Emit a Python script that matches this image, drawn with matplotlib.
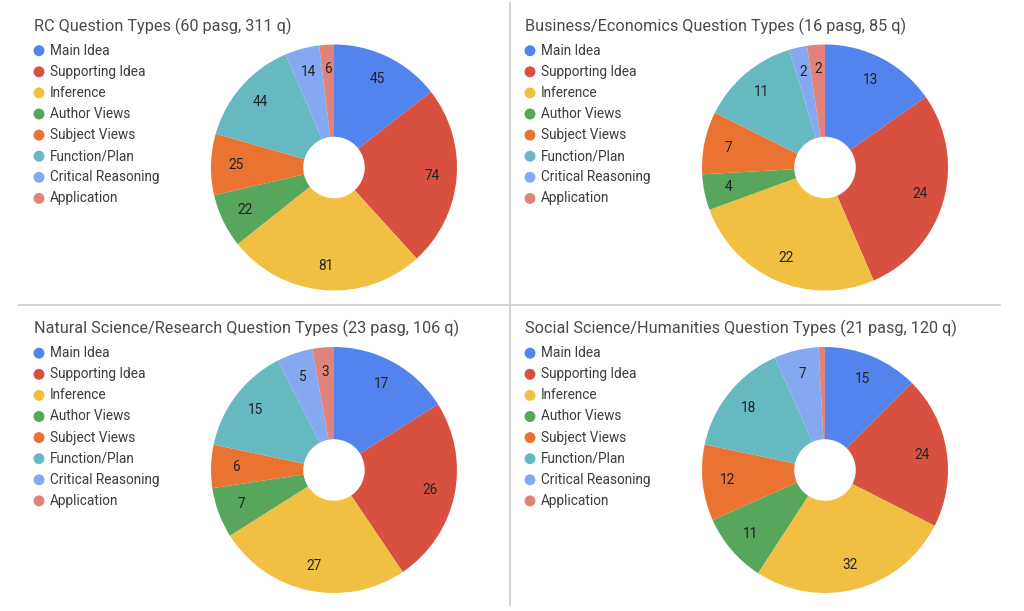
import numpy as np
import matplotlib.pyplot as plt

plt.rcParams['font.family'] = ['Roboto', 'DejaVu Sans']

# Question type categories (legend order = slice order, clockwise from 12 o'clock)
categories = ['Main Idea', 'Supporting Idea', 'Inference', 'Author Views',
              'Subject Views', 'Function/Plan', 'Critical Reasoning', 'Application']
colors = ['#5383EC', '#D85140', '#F1BF42', '#58A55C',
          '#EB7332', '#67B9C1', '#85A9F1', '#E1837B']

titles = ['RC Question Types (60 pasg, 311 q)',
          'Business/Economics Question Types (16 pasg, 85 q)',
          'Natural Science/Research Question Types (23 pasg, 106 q)',
          'Social Science/Humanities Question Types (21 pasg, 120 q)']

rc_all = [45, 74, 81, 22, 25, 44, 14, 6]
business = [13, 24, 22, 4, 7, 11, 2, 2]
natural_sci = [17, 26, 27, 7, 6, 15, 5, 3]
social_sci = [15, 24, 32, 11, 12, 18, 7, 1]
panel_values = [rc_all, business, natural_sci, social_sci]

W, H = 1024, 611
fig = plt.figure(figsize=(W / 100, H / 100), dpi=100)
fig.patch.set_facecolor('white')

# background axes in pixel coordinates for titles, legends and separators
bg = fig.add_axes([0, 0, 1, 1])
bg.set_xlim(0, W)
bg.set_ylim(H, 0)
bg.axis('off')

# separator lines between panels
bg.plot([19, 1000], [304.5, 304.5], color='#cfcfcf', lw=1.3)
bg.plot([509.5, 509.5], [3, 605], color='#cfcfcf', lw=1.3)

offsets = [(0, 0), (491, 0), (0, 302.5), (491, 302.5)]
R = 123

for vals, title, (ox, oy) in zip(panel_values, titles, offsets):
    # title
    bg.text(34 + ox, 26 + oy, title, fontsize=11.7, color='#4a4a4a',
            ha='left', va='center')

    # legend
    for i, (cat, col) in enumerate(zip(categories, colors)):
        y = 50.7 + oy + i * 21.1
        bg.scatter(39 + ox, y, s=62, color=col, edgecolors='none')
        bg.text(50 + ox, y, cat, fontsize=9.8, color='#3c3c3c',
                ha='left', va='center')

    # donut
    cx, cy = 334 + ox, 167.5 + oy
    ax = fig.add_axes([(cx - R) / W, 1 - (cy + R) / H, 2 * R / W, 2 * R / H])
    total = sum(vals)
    ax.pie(vals, colors=colors, startangle=90, counterclock=False,
           wedgeprops=dict(width=0.75, linewidth=0),
           autopct=lambda p, t=total: f'{round(p * t / 100)}' if p >= 1 else '',
           pctdistance=0.8,
           textprops=dict(fontsize=9.8, color='#222222'))
    ax.set_xlim(-1, 1)
    ax.set_ylim(-1, 1)
    ax.set_aspect('equal')

fig.savefig('out.png', dpi=100)
